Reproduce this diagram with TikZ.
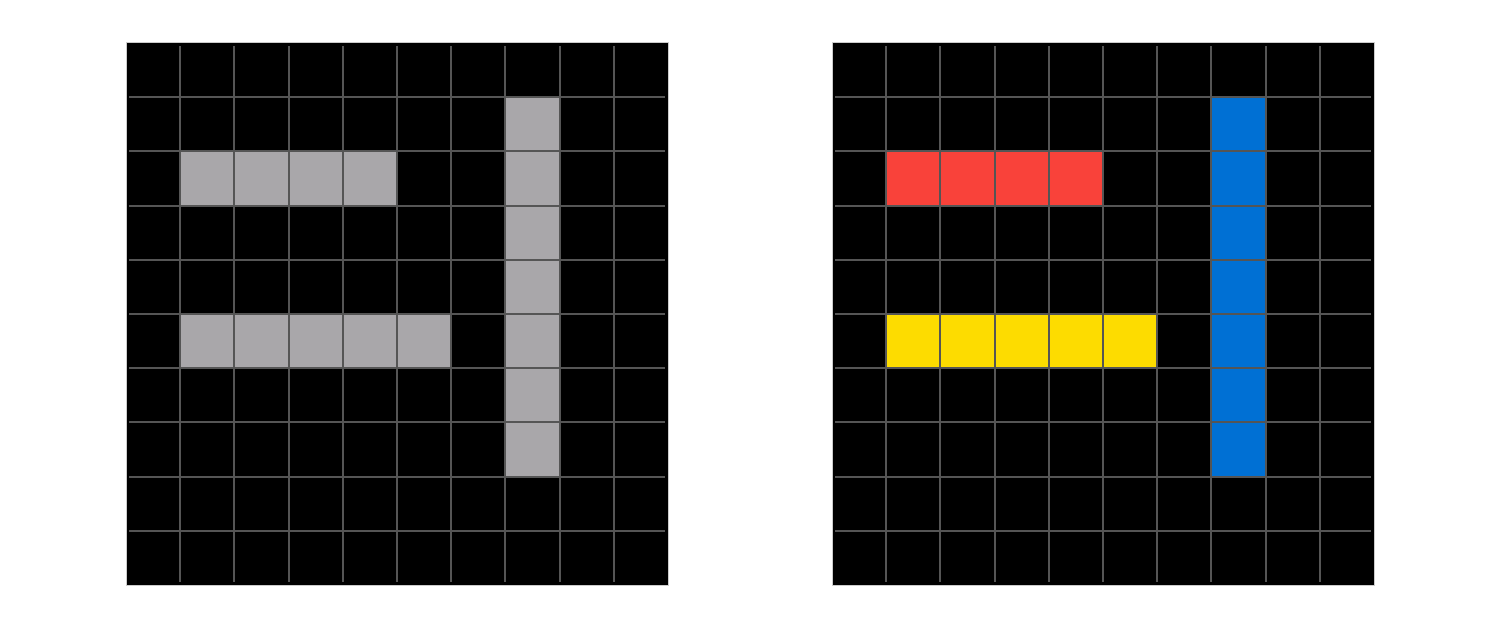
\documentclass[tikz,border=0pt]{standalone}
\usepackage{tikz}
\definecolor{gridgray}{HTML}{555555}
\definecolor{framegray}{HTML}{CCCCCC}
\definecolor{shapegray}{HTML}{A9A7AA}
\definecolor{shapered}{HTML}{F9423A}
\definecolor{shapeyellow}{HTML}{FDDC00}
\definecolor{shapeblue}{HTML}{0070D4}
\tikzset{
  board/.style={fill=black,draw=framegray,line width=0.5pt},
  gridline/.style={draw=gridgray,line width=1pt},
  cell/.style={draw=gridgray,line width=1pt}
}
% one 10x10 board with its three bars
\newcommand\boardgrid[3]{%
  \path[board] (0,0) rectangle (10,10);
  \foreach \k in {1,...,9}{
    \draw[gridline] (\k,0.06) -- (\k,9.94);
    \draw[gridline] (0.06,\k) -- (9.94,\k);
  }
  % top bar, row 2
  \foreach \c in {1,...,4}
    \path[cell,fill=#1] (\c,7) rectangle ++(1,1);
  % lower bar, row 5
  \foreach \c in {1,...,5}
    \path[cell,fill=#2] (\c,4) rectangle ++(1,1);
  % upright bar, column 7
  \foreach \r in {2,...,8}
    \path[cell,fill=#3] (7,\r) rectangle ++(1,1);
}
\begin{document}
\begin{tikzpicture}
  \useasboundingbox (0,0) rectangle (27.675,11.605);
  % left board, all grey
  \begin{scope}[shift={(2.325,0.812)}]
    \boardgrid{shapegray}{shapegray}{shapegray}
  \end{scope}
  % right board, coloured
  \begin{scope}[shift={(15.35,0.812)}]
    \boardgrid{shapered}{shapeyellow}{shapeblue}
  \end{scope}
\end{tikzpicture}
\end{document}
